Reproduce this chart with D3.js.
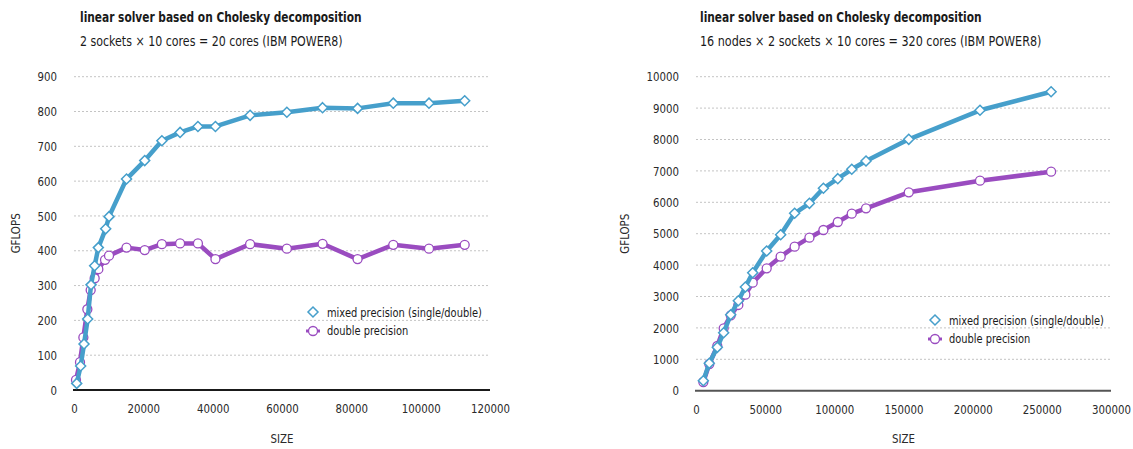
<!DOCTYPE html>
<html>
<head>
<meta charset="utf-8">
<script src="https://cdn.jsdelivr.net/npm/d3@7"></script>
<style>
  body { margin: 0; background: #fff; }
  text { font-family: "DejaVu Sans", sans-serif; }
</style>
</head>
<body>
<script>
// left chart: 2 sockets x 10 cores
const leftMixedSize = [780, 1920, 2890, 3940, 4910, 5960, 7020, 9140, 10100, 15150, 20400, 25350, 30600, 35750, 40800, 50800, 61400, 71700, 81800, 92100, 102400, 112700]
const leftMixed = [19, 69, 132, 204, 302, 357, 409, 463, 498, 606, 659, 716, 740, 757, 757, 789, 798, 811, 809, 824, 824, 831]
const leftDoubleSize = [575, 1730, 2700, 3850, 4810, 5960, 7020, 8950, 10100, 15150, 20400, 25350, 30600, 35750, 40800, 50800, 61400, 71700, 81800, 92100, 102400, 112700]
const leftDouble = [29, 80, 151, 232, 287, 321, 347, 374, 386, 409, 402, 419, 421, 421, 376, 419, 406, 420, 376, 417, 406, 417]
const leftXTicks = [0, 20000, 40000, 60000, 80000, 100000, 120000]
const leftYTicks = [0, 100, 200, 300, 400, 500, 600, 700, 800, 900]

// right chart: 16 nodes
const rightSize = [5300, 9600, 15400, 20000, 25100, 30600, 35700, 41000, 51100, 61200, 71300, 82000, 92100, 102500, 112600, 122900, 153800, 205300, 256700]
const rightMixed = [318, 872, 1382, 1847, 2420, 2866, 3302, 3758, 4449, 4968, 5650, 5968, 6446, 6752, 7051, 7315, 8006, 8930, 9522]
const rightDouble = [277, 850, 1424, 1987, 2400, 2730, 3058, 3440, 3898, 4268, 4586, 4873, 5118, 5373, 5637, 5809, 6318, 6688, 6975]
const rightXTicks = [0, 50000, 100000, 150000, 200000, 250000, 300000]
const rightYTicks = [0, 1000, 2000, 3000, 4000, 5000, 6000, 7000, 8000, 9000, 10000]

const title = "linear solver based on Cholesky decomposition"
const seriesNames = ["mixed precision (single/double)", "double precision"]
const blue = "#469fcb", purple = "#9a4cc0"

const svg = d3.select("body").append("svg")
    .attr("width", 1133)
    .attr("height", 449)

// no condensed font installed, so squeeze text horizontally to a wanted width
function squeezeTo(sel, width) {
    sel.each(function (d, i) {
        const t = d3.select(this)
        const w = typeof width === "function" ? width.call(this, d, i) : width
        const k = w / this.getComputedTextLength()
        const x = +(t.attr("x") || 0)
        const tr = t.attr("transform") || ""
        t.attr("x", x / k).attr("transform", `${tr} scale(${k},1)`)
    })
}
const digitW = function () { return 6.5 * this.textContent.length }

function drawChart(opt) {
    const g = svg.append("g")
    const x = d3.scaleLinear().domain(opt.xDomain).range([opt.x0, opt.x1])
    const y = d3.scaleLinear().domain(opt.yDomain).range([opt.y0, opt.y1])

    g.append("text").attr("x", opt.titleX).attr("y", 22)
        .attr("font-size", 14.5).attr("font-weight", "bold").attr("fill", "#1a1a1a")
        .text(title)
        .call(squeezeTo, 282)
    g.append("text").attr("x", opt.titleX).attr("y", 46)
        .attr("font-size", 14).attr("fill", "#1a1a1a")
        .text(opt.subtitle)
        .call(squeezeTo, opt.subW)

    // gridlines
    g.selectAll(".grid").data(opt.yTicks.slice(1)).join("line")
        .attr("x1", opt.x0).attr("x2", opt.x1)
        .attr("y1", d => y(d)).attr("y2", d => y(d))
        .attr("stroke", "#c4c4c4").attr("stroke-width", 1)
        .attr("stroke-dasharray", "2,2")

    const yAxis = g.append("g")
        .attr("transform", `translate(${opt.yLabelX},0)`)
        .call(d3.axisLeft(y).tickValues(opt.yTicks).tickSize(0).tickPadding(0).tickFormat(d3.format("d")))
    yAxis.select(".domain").remove()
    yAxis.selectAll("text").attr("font-size", 13).attr("fill", "#2a2a2a").attr("font-family", null)
        .call(squeezeTo, digitW)

    const xAxis = g.append("g")
        .attr("transform", `translate(0,${opt.y0 + 14})`)
        .call(d3.axisBottom(x).tickValues(opt.xTicks).tickSize(0).tickPadding(0).tickFormat(d3.format("d")))
    xAxis.select(".domain").remove()
    xAxis.selectAll("text").attr("font-size", 13).attr("fill", "#2a2a2a").attr("font-family", null)
        .call(squeezeTo, digitW)

    g.append("line")
        .attr("x1", opt.x0 - 1).attr("x2", opt.x1)
        .attr("y1", opt.y0).attr("y2", opt.y0)
        .attr("stroke", opt.baseColor).attr("stroke-width", 2)

    g.append("text")
        .attr("transform", `translate(${opt.yTitleX},${(opt.y0 + opt.y1) / 2}) rotate(-90)`)
        .attr("text-anchor", "middle").attr("font-size", 13).attr("fill", "#2a2a2a")
        .text("GFLOPS")
        .call(squeezeTo, 40)
    g.append("text")
        .attr("x", (opt.x0 + opt.x1) / 2).attr("y", 443)
        .attr("text-anchor", "middle").attr("font-size", 13).attr("fill", "#2a2a2a")
        .text("SIZE")
        .call(squeezeTo, 23)

    const line = d3.line().x(d => x(d[0])).y(d => y(d[1]))
    const dbl = d3.zip(opt.doubleSize, opt.double)
    const mix = d3.zip(opt.mixedSize, opt.mixed)

    g.append("path").datum(dbl).attr("d", line)
        .attr("fill", "none").attr("stroke", purple).attr("stroke-width", 4.5).attr("stroke-linejoin", "round")
    g.selectAll(".dpt").data(dbl).join("circle")
        .attr("cx", d => x(d[0])).attr("cy", d => y(d[1])).attr("r", 4.5)
        .attr("fill", "#fff").attr("stroke", purple).attr("stroke-width", 1.3)

    g.append("path").datum(mix).attr("d", line)
        .attr("fill", "none").attr("stroke", blue).attr("stroke-width", 4.5).attr("stroke-linejoin", "round")
    const diamond = d3.symbol().type(d3.symbolDiamond2).size(64)
    g.selectAll(".mpt").data(mix).join("path")
        .attr("transform", d => `translate(${x(d[0])},${y(d[1])})`)
        .attr("d", diamond)
        .attr("fill", "#fff").attr("stroke", blue).attr("stroke-width", 1.5)

    // legend
    const lg = g.append("g").attr("transform", `translate(${opt.legX},${opt.legY})`)
    lg.append("path").attr("d", diamond).attr("fill", "#fff").attr("stroke", blue).attr("stroke-width", 1.5)
    lg.append("line").attr("x1", -7).attr("x2", 7).attr("y1", 19).attr("y2", 19)
        .attr("stroke", purple).attr("stroke-width", 3)
    lg.append("circle").attr("cy", 19).attr("r", 4.5).attr("fill", "#fff").attr("stroke", purple).attr("stroke-width", 1.3)
    const lt = lg.selectAll(".lt").data(seriesNames).join("text")
        .attr("x", 14).attr("y", (d, i) => i * 19 + 4.5)
        .attr("font-size", 13).attr("fill", "#1a1a1a")
        .text(d => d)
    const legK = 155 / lt.node().getComputedTextLength()
    lt.call(squeezeTo, function () { return this.getComputedTextLength() * legK })
}

drawChart({
    subtitle: "2 sockets × 10 cores = 20 cores (IBM POWER8)",
    subW: 263,
    titleX: 80,
    xDomain: [0, 120000], x0: 74, x1: 490,
    yDomain: [0, 900], y0: 390, y1: 76.7,
    xTicks: leftXTicks, yTicks: leftYTicks,
    mixedSize: leftMixedSize, mixed: leftMixed,
    doubleSize: leftDoubleSize, double: leftDouble,
    yLabelX: 57, yTitleX: 20,
    baseColor: "#1a1a1a",
    legX: 313, legY: 312
})

drawChart({
    subtitle: "16 nodes × 2 sockets × 10 cores = 320 cores (IBM POWER8)",
    subW: 342,
    titleX: 700,
    xDomain: [0, 300000], x0: 696, x1: 1111,
    yDomain: [0, 10000], y0: 390.7, y1: 76.7,
    xTicks: rightXTicks, yTicks: rightYTicks,
    mixedSize: rightSize, mixed: rightMixed,
    doubleSize: rightSize, double: rightDouble,
    yLabelX: 679, yTitleX: 629,
    baseColor: "#555",
    legX: 935, legY: 320
})
</script>
</body>
</html>
